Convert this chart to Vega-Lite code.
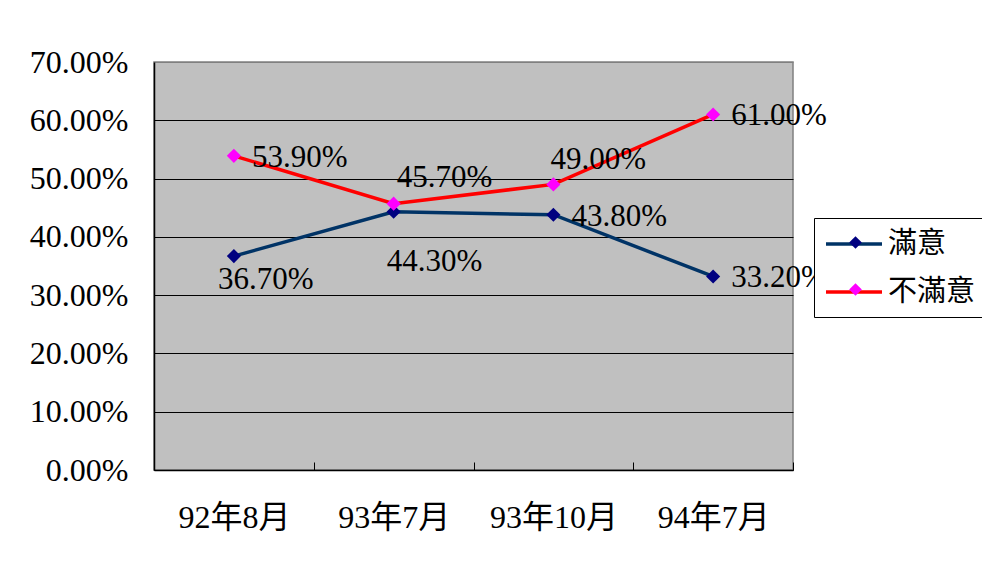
{
  "$schema": "https://vega.github.io/schema/vega-lite/v6.json",
  "width": 639,
  "height": 408,
  "autosize": {"type": "none"},
  "padding": {"left": 154, "top": 62, "right": 189, "bottom": 93},
  "background": "white",
  "config": {
    "font": "Liberation Serif, Noto Sans CJK TC",
    "view": {"fill": "#C0C0C0", "stroke": "#808080", "strokeWidth": 1.5},
    "axis": {"labelFont": "Liberation Serif, Noto Sans CJK TC", "labelColor": "black", "domainColor": "black", "tickColor": "black"}
  },
  "data": {
    "values": [
      {"date": "92年8月", "series": "滿意", "value": 0.367},
      {"date": "93年7月", "series": "滿意", "value": 0.443},
      {"date": "93年10月", "series": "滿意", "value": 0.438},
      {"date": "94年7月", "series": "滿意", "value": 0.332},
      {"date": "92年8月", "series": "不滿意", "value": 0.539},
      {"date": "93年7月", "series": "不滿意", "value": 0.457},
      {"date": "93年10月", "series": "不滿意", "value": 0.49},
      {"date": "94年7月", "series": "不滿意", "value": 0.61}
    ]
  },
  "encoding": {
    "x": {
      "field": "date", "type": "nominal", "sort": null,
      "scale": {"paddingInner": 0, "paddingOuter": 0},
      "axis": {"title": null, "labelAngle": 0, "labelFontSize": 32, "tickBand": "extent", "tickSize": -8, "labelPadding": 40, "domainWidth": 1.5, "labelBaseline": "top"}
    },
    "y": {
      "field": "value", "type": "quantitative",
      "scale": {"domain": [0, 0.7], "nice": false},
      "axis": {"title": null, "format": ".2%", "values": [0, 0.1, 0.2, 0.3, 0.4, 0.5, 0.6, 0.7], "labelOverlap": false, "labelFontSize": 32, "ticks": false, "labelPadding": 26, "domainWidth": 1.5,
        "gridColor": {"condition": {"test": "datum.value >= 0.69", "value": "#808080"}, "value": "black"}, "gridOpacity": 1}
    }
  },
  "layer": [
    {
      "mark": {"type": "line", "strokeWidth": 3.5},
      "encoding": {
        "stroke": {
          "field": "series", "type": "nominal", "sort": ["滿意", "不滿意"],
          "scale": {"range": ["#003366", "#FF0000"]},
          "legend": {
            "title": null, "orient": "none", "legendX": 660, "legendY": 156,
            "strokeColor": "black", "fillColor": "white", "padding": 10,
            "symbolType": "M-1,0H3", "symbolFillColor": "transparent",
            "symbolSize": 784, "symbolStrokeWidth": 3.5,
            "labelOffset": 32, "rowPadding": 17,
            "labelFontSize": 29, "labelFont": "Liberation Serif, Noto Sans CJK TC", "labelColor": "black"
          }
        }
      }
    },
    {
      "transform": [{"calculate": "datum.series", "as": "marker"}],
      "mark": {"type": "point", "shape": "diamond", "filled": true, "size": 200, "opacity": 1},
      "encoding": {
        "fill": {
          "field": "marker", "type": "nominal", "sort": ["滿意", "不滿意"],
          "scale": {"range": ["#000080", "#FF00FF"]},
          "legend": {
            "title": null, "orient": "none", "legendX": 677, "legendY": 156,
            "strokeColor": null, "fillColor": null, "padding": 10,
            "symbolType": "diamond", "symbolSize": 160, "symbolStrokeWidth": 0, "symbolOpacity": 1,
            "labelOffset": 32, "rowPadding": 17,
            "labelFontSize": 29, "labelFont": "Liberation Serif, Noto Sans CJK TC", "labelExpr": "''"
          }
        }
      }
    },
    {
      "transform": [{"filter": "(datum.series === '滿意' && (datum.date === '93年10月' || datum.date === '94年7月')) || (datum.series === '不滿意' && (datum.date === '92年8月' || datum.date === '94年7月'))"}],
      "mark": {"type": "text", "align": "left", "baseline": "middle", "dx": 18, "dy": 2, "fontSize": 31, "color": "black"},
      "encoding": {"text": {"field": "value", "format": ".2%"}}
    },
    {
      "transform": [{"filter": "datum.series === '滿意' && datum.date === '92年8月'"}],
      "mark": {"type": "text", "align": "left", "baseline": "middle", "dx": -16, "dy": 24, "fontSize": 31, "color": "black"},
      "encoding": {"text": {"field": "value", "format": ".2%"}}
    },
    {
      "transform": [{"filter": "datum.series === '滿意' && datum.date === '93年7月'"}],
      "mark": {"type": "text", "align": "left", "baseline": "middle", "dx": -7, "dy": 50, "fontSize": 31, "color": "black"},
      "encoding": {"text": {"field": "value", "format": ".2%"}}
    },
    {
      "transform": [{"filter": "datum.series === '不滿意' && datum.date === '93年7月'"}],
      "mark": {"type": "text", "align": "left", "baseline": "middle", "dx": 3, "dy": -26, "fontSize": 31, "color": "black"},
      "encoding": {"text": {"field": "value", "format": ".2%"}}
    },
    {
      "transform": [{"filter": "datum.series === '不滿意' && datum.date === '93年10月'"}],
      "mark": {"type": "text", "align": "left", "baseline": "middle", "dx": -3, "dy": -24, "fontSize": 31, "color": "black"},
      "encoding": {"text": {"field": "value", "format": ".2%"}}
    }
  ]
}
